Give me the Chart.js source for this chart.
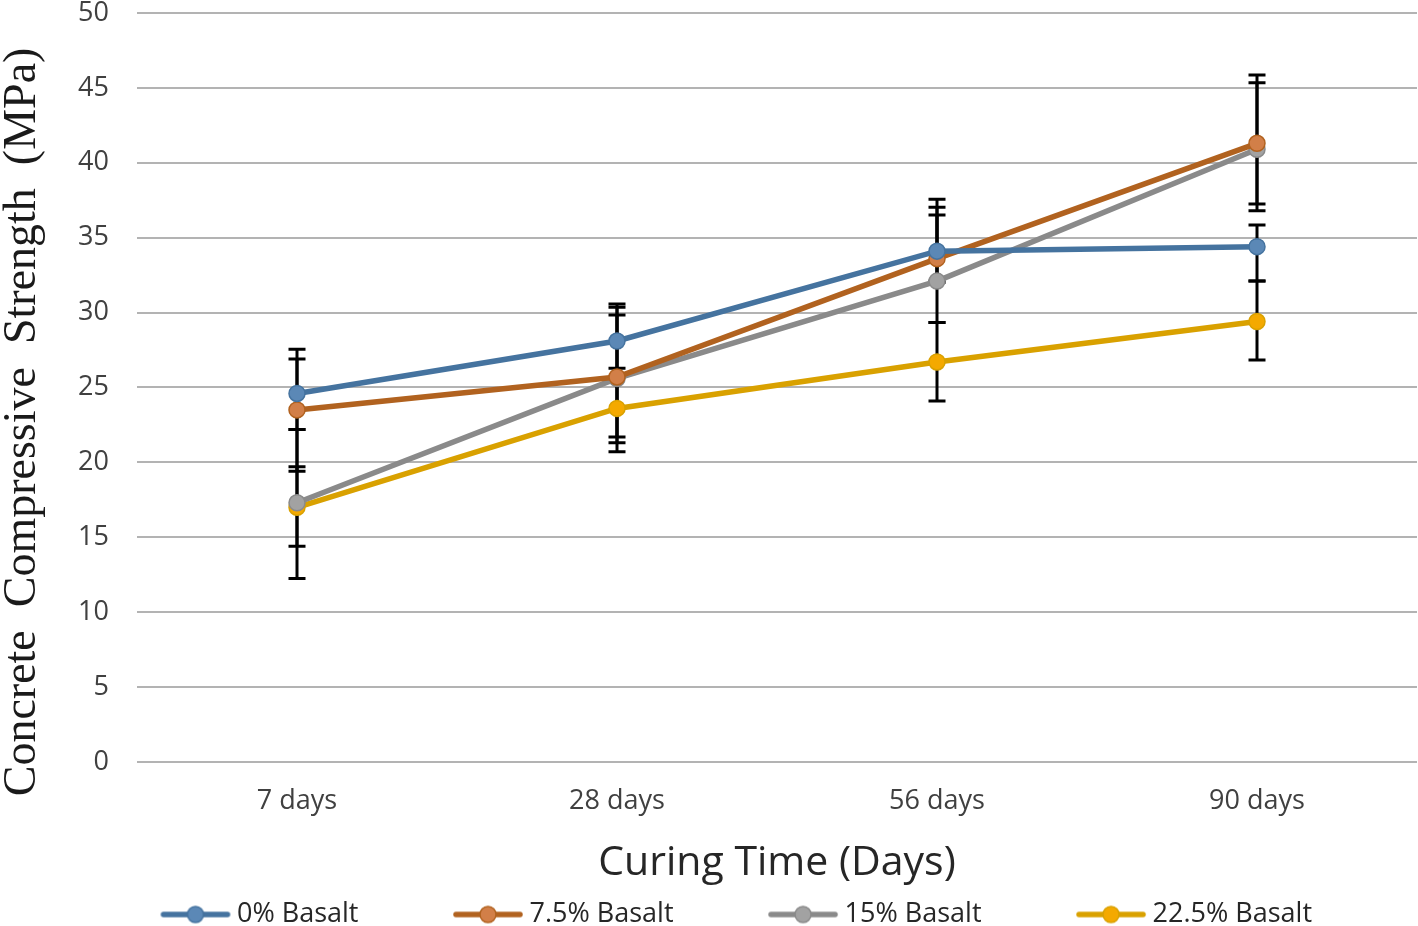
<!DOCTYPE html>
<html>
<head>
<meta charset="utf-8">
<script src="https://cdn.jsdelivr.net/npm/chart.js@4.4.1/dist/chart.umd.min.js"></script>
<style>
html,body{margin:0;padding:0;background:#fff;}
#wrap{width:1418px;height:926px;}
</style>
</head>
<body>
<div id="wrap"><canvas id="c" width="1418" height="926"></canvas></div>
<script>
const categories = ['7 days', '28 days', '56 days', '90 days'];
const seriesNames = ['0% Basalt', '7.5% Basalt', '15% Basalt', '22.5% Basalt'];

const basalt0   = [24.6, 28.1, 34.1, 34.4];
const basalt75  = [23.5, 25.7, 33.6, 41.3];
const basalt15  = [17.3, 25.6, 32.1, 40.9];
const basalt225 = [17.0, 23.6, 26.7, 29.4];

const errPlus0    = [2.95, 2.25, 3.46, 1.45];
const errMinus0   = [2.4, 2.4, 2.1, 2.3];
const errPlus75   = [3.4, 4.87, 3.43, 4.56];
const errMinus75  = [4.1, 4.0, 1.5, 4.5];
const errPlus15   = [2.4, 4.24, 4.42, 4.45];
const errMinus15  = [2.9, 4.9, 2.77, 3.65];
const errPlus225  = [5.2, 2.68, 2.63, 2.7];
const errMinus225 = [4.75, 2.3, 2.6, 2.56];

const yTicks = [0, 5, 10, 15, 20, 25, 30, 35, 40, 45, 50];

const lineColors   = ['#45739f', '#b1621f', '#8a8a8a', '#d9a100'];
const markerColors = ['#5b88b6', '#d27f48', '#a2a2a2', '#f4a900'];

function legendIcon(line, fill) {
  const cv = document.createElement('canvas');
  cv.width = 72; cv.height = 22;
  const g = cv.getContext('2d');
  g.strokeStyle = line; g.lineWidth = 5.5; g.lineCap = 'round';
  g.beginPath(); g.moveTo(4, 11); g.lineTo(68, 11); g.stroke();
  g.fillStyle = fill; g.strokeStyle = line; g.lineWidth = 1.5;
  g.beginPath(); g.arc(36, 11, 8, 0, Math.PI * 2); g.fill(); g.stroke();
  return cv;
}

const seriesValues = [basalt0, basalt75, basalt15, basalt225];
const seriesPlus = [errPlus0, errPlus75, errPlus15, errPlus225];
const seriesMinus = [errMinus0, errMinus75, errMinus15, errMinus225];

const datasets = seriesValues.map((vals, i) => ({
  label: seriesNames[i],
  data: vals,
  borderColor: lineColors[i],
  backgroundColor: markerColors[i],
  pointBackgroundColor: markerColors[i],
  pointBorderColor: lineColors[i],
  pointBorderWidth: 1.5,
  pointRadius: 8,
  borderWidth: 5.5,
  tension: 0,
  clip: false,
  errPlus: seriesPlus[i],
  errMinus: seriesMinus[i],
  legendIconCanvas: legendIcon(lineColors[i], markerColors[i])
}));

const errorBarPlugin = {
  id: 'errorBars',
  beforeDatasetsDraw(chart) {
    const ctx = chart.ctx;
    const ys = chart.scales.y;
    ctx.save();
    ctx.strokeStyle = '#000';
    chart.data.datasets.forEach((ds, di) => {
      const meta = chart.getDatasetMeta(di);
      meta.data.forEach((pt, i) => {
        const v = ds.data[i];
        const yTop = ys.getPixelForValue(v + ds.errPlus[i]);
        const yBot = ys.getPixelForValue(v - ds.errMinus[i]);
        const x = pt.x;
        ctx.lineWidth = 3;
        ctx.beginPath(); ctx.moveTo(x, yTop); ctx.lineTo(x, yBot); ctx.stroke();
        ctx.lineWidth = 3;
        ctx.beginPath();
        ctx.moveTo(x - 8.5, yTop); ctx.lineTo(x + 8.5, yTop);
        ctx.moveTo(x - 8.5, yBot); ctx.lineTo(x + 8.5, yBot);
        ctx.stroke();
      });
    });
    ctx.restore();
  }
};

new Chart(document.getElementById('c'), {
  type: 'line',
  data: { labels: categories, datasets: datasets },
  plugins: [errorBarPlugin],
  options: {
    responsive: false,
    devicePixelRatio: 1,
    animation: false,
    layout: { autoPadding: false, padding: { top: 13, right: 1, left: 0, bottom: -12 } },
    plugins: {
      tooltip: { enabled: false },
      legend: {
        position: 'bottom',
        fullSize: false,
        labels: {
          usePointStyle: true,
          pointStyleWidth: 56,
          boxHeight: 20,
          padding: 0,
          color: '#262626',
          font: { family: '"Open Sans"', size: 27 },
          generateLabels(chart) {
            const n = chart.data.datasets.length;
            return chart.data.datasets.map((ds, i) => ({
              text: ds.label + (i < n - 1 ? '\u2003\u2003\u2003\u2002 ' : '\u2003\u2003\u2002 '),
              pointStyle: ds.legendIconCanvas,
              fillStyle: ds.backgroundColor,
              strokeStyle: ds.borderColor,
              lineWidth: 0,
              datasetIndex: i,
              hidden: false,
              fontColor: '#262626'
            }));
          }
        }
      }
    },
    scales: {
      x: {
        offset: true,
        afterFit(scale) { scale.paddingLeft = 0; scale.paddingRight = 0; },
        grid: { display: false, drawTicks: false },
        border: { display: false },
        ticks: { color: '#404040', font: { family: '"Open Sans"', size: 27 }, padding: 23 },
        title: {
          display: true,
          text: 'Curing Time (Days)',
          color: '#262626',
          font: { family: '"Open Sans"', size: 41 },
          padding: { top: -1.5, bottom: 13 }
        }
      },
      y: {
        min: 0, max: 50,
        afterBuildTicks(scale) { scale.ticks = yTicks.map(v => ({ value: v })); },
        afterFit(scale) { scale.width = 137; scale.paddingTop = 0; scale.paddingBottom = 0; },
        grid: { color: '#b3b3b3', lineWidth: 2, drawTicks: false },
        border: { display: false },
        ticks: { color: '#404040', font: { family: '"Open Sans"', size: 27 }, padding: 28 },
        title: {
          display: true,
          text: 'Concrete  Compressive  Strength  (MPa)\u2003\u2002',
          color: '#1a1a1a',
          font: { family: '"Liberation Serif"', size: 46, lineHeight: 1 },
          padding: { top: 0, bottom: 0 }
        }
      }
    }
  }
});
</script>
</body>
</html>
